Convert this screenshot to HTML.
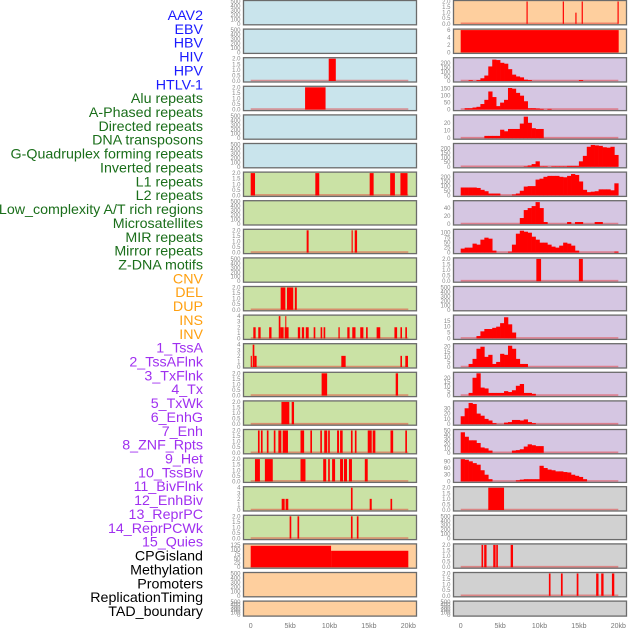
<!DOCTYPE html>
<html><head><meta charset="utf-8"><style>
html,body{margin:0;padding:0;background:#fff;width:630px;height:630px;overflow:hidden}
svg{display:block}
</style></head><body>
<svg id="chart" width="630" height="630" xmlns="http://www.w3.org/2000/svg"></svg>
<script>
// ---------- data ----------
const rowLabels = ["AAV2","EBV","HBV","HIV","HPV","HTLV-1","Alu repeats","A-Phased repeats","Directed repeats","DNA transposons","G-Quadruplex forming repeats","Inverted repeats","L1 repeats","L2 repeats","Low_complexity A/T rich regions","Microsatellites","MIR repeats","Mirror repeats","Z-DNA motifs","CNV","DEL","DUP","INS","INV","1_TssA","2_TssAFlnk","3_TxFlnk","4_Tx","5_TxWk","6_EnhG","7_Enh","8_ZNF_Rpts","9_Het","10_TssBiv","11_BivFlnk","12_EnhBiv","13_ReprPC","14_ReprPCWk","15_Quies","CPGisland","Methylation","Promoters","ReplicationTiming","TAD_boundary"];
const labelGroups = ["blue","blue","blue","blue","blue","blue","green","green","green","green","green","green","green","green","green","green","green","green","green","orange","orange","orange","orange","orange","purple","purple","purple","purple","purple","purple","purple","purple","purple","purple","purple","purple","purple","purple","purple","black","black","black","black","black"];
const xTickValues = [0,5,10,15,20];
const xTickLabels = ["0","5kb","10kb","15kb","20kb"];

// interval bars [startKb, endKb, value]
const row0R = [[8.35,8.5,2],[12.95,13.1,2],[14.55,14.7,1],[15.35,15.5,2],[19.9,20.05,2]];
const row1R = [[0,20.05,6]];
const row2L = [[9.9,10.8,2]];
const row3L = [[6.9,9.5,2]];
const row6L = [[0,0.55,2],[8.2,8.7,2],[15.1,15.6,2],[17.7,18.3,2],[19.0,19.9,2]];
const row8L = [[7.1,7.35,2],[12.8,12.95,2],[13.2,13.5,2]];
const row9R = [[9.6,10.2,2],[15.0,15.5,2]];
const row10L = [[3.8,4.4,2],[4.6,5.4,2],[5.6,5.85,2]];
const row11L = [[0.33,0.63,2],[0.96,1.26,2],[2.34,2.64,2],[3.56,3.77,4],[3.77,4.18,2],[4.31,4.81,2],[4.39,4.52,4],[5.98,6.28,2],[6.49,6.78,2],[6.99,7.36,2],[7.99,8.2,2],[8.87,9.08,2],[9.25,9.46,2],[11.13,11.3,2],[12.26,12.55,2],[12.89,13.3,2],[13.9,14.3,2],[14.64,14.85,2],[15.98,16.44,2],[18.24,18.58,2],[19.0,19.2,2],[19.62,19.83,2]];
const row12L = [[0,0.15,2],[0.25,0.46,4],[0.46,0.75,2],[11.5,12.05,2],[19.0,19.2,2],[19.62,19.96,2]];
const row13L = [[9.0,9.7,2],[18.4,18.7,2]];
const row14L = [[3.9,4.9,2],[5.2,5.5,2]];
const row15L = [[0.92,1.13,2],[1.3,1.51,2],[2.05,2.26,2],[2.93,3.14,2],[3.51,3.89,2],[4.06,4.73,2],[6.32,6.78,2],[7.57,7.78,2],[8.83,9.04,2],[9.33,9.71,2],[9.83,10.04,2],[10.96,11.21,2],[11.34,11.67,2],[12.72,12.93,2],[13.22,13.43,2],[14.85,15.36,2],[15.48,15.82,2],[17.74,18.08,2],[19.62,19.83,2]];
const row16L = [[0.54,1.17,2],[1.8,2.8,2],[6.32,6.95,2],[9.2,9.58,2],[9.83,10.04,2],[10.33,10.71,2],[11.34,11.72,2],[11.84,12.22,2],[12.47,12.85,2],[14.48,14.85,2]];
const row17L = [[3.93,4.31,2],[4.43,4.77,2],[12.72,12.93,4],[15.1,15.36,2],[17.74,17.95,2]];
const row17R = [[3.5,5.5,2]];
const row18L = [[4.94,5.15,2],[5.94,6.15,2],[12.72,12.93,2],[13.47,13.68,2]];
const row19L = [[0,10.2,120],[10.2,20,92]];
const row19R = [[2.64,2.85,2],[2.98,3.28,2],[4.13,4.43,2],[4.51,4.72,2],[6.34,6.64,2]];
const row20R = [[11.19,11.4,2],[12.72,12.94,2],[14.72,14.94,2],[17.19,17.49,2],[17.83,18.13,2],[19.19,19.49,2]];

// histograms: 0.5kb bins, 40 bins
const row2R = [0,0,8,0,10,30,60,160,235,230,200,190,130,70,50,40,15,10,0,0,0,0,0,0,0,0,0,0,0,0,10,0,0,0,0,0,0,0,0,0];
const row3R = [0,10,10,15,20,40,70,130,90,25,50,70,155,150,120,100,60,10,10,8,5,0,5,0,0,0,0,0,0,0,0,0,0,0,0,0,0,0,0,0];
const row4R = [0,0,0,0,0,0,3,3,3,3,11,9,12,12,12,19,28,20,13,12,12,0,0,0,0,0,0,0,0,0,0,0,0,0,0,0,0,0,0,0];
const row5R = [0,0,0,0,0,0,0,0,0,0,0,0,0,0,0,0,5,15,30,60,5,5,0,5,5,5,5,10,10,10,60,120,220,240,235,230,215,210,220,130];
const row6R = [85,85,85,85,80,60,45,20,20,20,0,0,0,10,20,50,95,100,100,170,180,200,210,210,210,200,195,210,230,220,150,60,35,40,45,65,65,65,55,130];
const row7R = [0,0,0,0,0,0,0,0,0,0,0,0,0,0,0,15,35,40,45,55,40,5,0,0,0,0,0,5,0,5,5,0,0,0,5,5,0,0,0,0];
const row8R = [20,25,25,45,40,65,75,70,10,0,0,0,5,40,95,110,105,100,80,65,50,50,40,30,25,35,50,45,35,10,0,0,0,0,0,0,0,0,0,5];
const row11R = [0,0,0,0,2,6,8,8,9,10,13,18,12,5,0,0,0,0,0,0,0,0,0,0,0,0,0,0,0,0,0,0,0,0,0,0,0,0,0,0];
const row12R = [0,0,3,8,18,20,10,12,3,5,13,12,21,18,8,3,3,0,0,0,0,0,0,0,0,0,0,0,0,0,0,0,0,0,0,0,0,0,0,0];
const row13R = [0,0,3,20,25,9,8,3,3,3,3,5,4,6,11,13,3,3,2,0,0,0,0,0,0,0,0,0,0,0,0,0,0,0,0,0,0,0,0,0];
const row14R = [15,30,40,38,20,16,10,7,2,0,0,3,4,8,8,7,9,4,2,0,0,0,0,0,0,0,0,0,0,0,0,0,0,0,0,0,0,0,0,0];
const row15R = [46,36,28,28,22,12,10,5,0,0,0,0,0,5,6,8,14,19,17,15,15,0,0,0,0,0,0,0,0,0,0,0,0,0,0,0,0,0,0,0];
const row16R = [100,97,90,82,75,50,30,10,0,0,0,0,0,0,5,8,10,10,10,10,70,60,53,50,45,45,42,40,30,25,20,10,0,0,0,0,0,0,0,0];

// y tick sets
const ticksEmpty = [0,100,200,300,400,500];
const ticks2 = [0,0.5,1,1.5,2];
const ticks4 = [0,1,2,3,4];

// ---------- layout ----------
const bgColors = {blue:"#c9e4ec",green:"#cae2a5",orange:"#fecf9e",purple:"#d5c6e2",gray:"#d1d1d1"};
const labelColors = {blue:"#1a1aff",green:"#1a6e1a",orange:"#ffa010",purple:"#a030f0",black:"#000"};
const leftBg = ["blue","blue","blue","blue","blue","blue","green","green","green","green","green","green","green","green","green","green","green","green","green","orange","orange","orange"];
const rightBg = ["orange","orange","purple","purple","purple","purple","purple","purple","purple","purple","purple","purple","purple","purple","purple","purple","purple","gray","gray","gray","gray","gray"];

function P(kind,data,ticks,max,dec){return {kind,data,ticks,max,dec};}
const E = () => P("empty",null,ticksEmpty,500,0);
const leftPanels = [E(),E(),P("bars",row2L,ticks2,2,1),P("bars",row3L,ticks2,2,1),E(),E(),
 P("bars",row6L,ticks2,2,1),E(),P("bars",row8L,ticks2,2,1),E(),P("bars",row10L,ticks2,2,1),
 P("bars",row11L,ticks4,4,0),P("bars",row12L,ticks4,4,0),P("bars",row13L,ticks2,2,1),P("bars",row14L,ticks2,2,1),
 P("bars",row15L,ticks2,2,1),P("bars",row16L,ticks2,2,1),P("bars",row17L,ticks4,4,0),P("bars",row18L,ticks2,2,1),
 P("bars",row19L,[0,25,50,75,100,125],125,0),E(),E()];
const rightPanels = [P("bars",row0R,ticks2,2,1),P("bars",row1R,[0,2,4,6],6,0),
 P("hist",row2R,[0,50,100,150,200],245,0),P("hist",row3R,[0,50,100,150],160,0),P("hist",row4R,[0,10,20],29,0),
 P("hist",row5R,[0,50,100,150,200],245,0),P("hist",row6R,[0,50,100,150,200],240,0),P("hist",row7R,[0,20,40],56,0),
 P("hist",row8R,[0,25,50,75,100],112,0),P("bars",row9R,ticks2,2,1),E(),
 P("hist",row11R,[0,5,10,15],19,0),P("hist",row12R,[0,5,10,15,20],22,0),P("hist",row13R,[0,5,10,15,20],25,0),
 P("hist",row14R,[0,10,20,30],42,0),P("hist",row15R,[0,10,20,30,40,50],50,0),P("hist",row16R,[0,30,60,90],100,0),
 P("bars",row17R,ticks2,2,1),E(),P("bars",row19R,ticks2,2,1),P("bars",row20R,ticks2,2,1),E()];

const NS="http://www.w3.org/2000/svg";
const svg=document.getElementById("chart");
function el(tag,attrs,parent){const e=document.createElementNS(NS,tag);for(const k in attrs)e.setAttribute(k,attrs[k]);(parent||svg).appendChild(e);return e;}

// labels
rowLabels.forEach((t,k)=>{
  const tx=el("text",{x:203,y:15+13.86*k+5,"text-anchor":"end","font-family":"Liberation Sans, sans-serif","font-size":"14.25",fill:labelColors[labelGroups[k]]});
  tx.textContent=t;
  
  
});

const cols=[{x0:243.5,w:173,kb0:250.7,side:"left",panels:leftPanels,bg:leftBg},
            {x0:453.5,w:173,kb0:460.7,side:"right",panels:rightPanels,bg:rightBg}];
const kbScale=7.88;

cols.forEach(col=>{
  const xs=kb=>col.kb0+kb*kbScale;
  col.panels.forEach((p,i)=>{
    const top=0.5+28.6*i;
    const h = i===21 ? 15 : 24.3;
    const g=el("g",{});
    
    
    el("rect",{x:col.x0,y:top,width:col.w,height:h,fill:bgColors[col.bg[i]],stroke:"none"},g);
    const y0=top+h-1, yTop=top+1;
    const ys=v=>y0-(v/p.max)*(y0-yTop);
    p.ticks.forEach(t=>{
      const lab=el("text",{x:col.x0-3,y:ys(t)+2,"text-anchor":"end","font-family":"Liberation Sans, sans-serif","font-size":"6",fill:"#888"},g);
      lab.textContent=p.dec?t.toFixed(p.dec):String(t);
      
      
    });
    if(p.kind!=="empty"){
      el("line",{x1:xs(0),x2:xs(20),y1:y0-0.5,y2:y0-0.5,stroke:"rgba(230,40,40,0.45)","stroke-width":1.6},g);
    }
    if(p.kind==="bars"){
      p.data.forEach(b=>{
        const r=el("rect",{x:xs(b[0]),y:ys(b[2]),width:Math.max(1,xs(b[1])-xs(b[0])),height:y0-ys(b[2]),fill:"#ff0000"},g);
        
        
      });
    } else if(p.kind==="hist"){
      p.data.forEach((v,j)=>{
        if(v<=0) return;
        const r=el("rect",{x:xs(j*0.5),y:ys(v),width:xs(0.5)-xs(0)+0.3,height:y0-ys(v),fill:"#ff0000"},g);
        
        
      });
    }
    el("rect",{x:col.x0,y:top,width:col.w,height:h,fill:"none",stroke:"#6b6b6b","stroke-width":1.3},g);
  });
  xTickValues.forEach((v,j)=>{
    const t=el("text",{x:xs(v),y:628,"text-anchor":"middle","font-family":"Liberation Sans, sans-serif","font-size":"7",fill:"#777"});
    t.textContent=xTickLabels[j];
    
    
  });
});
</script>
</body></html>
